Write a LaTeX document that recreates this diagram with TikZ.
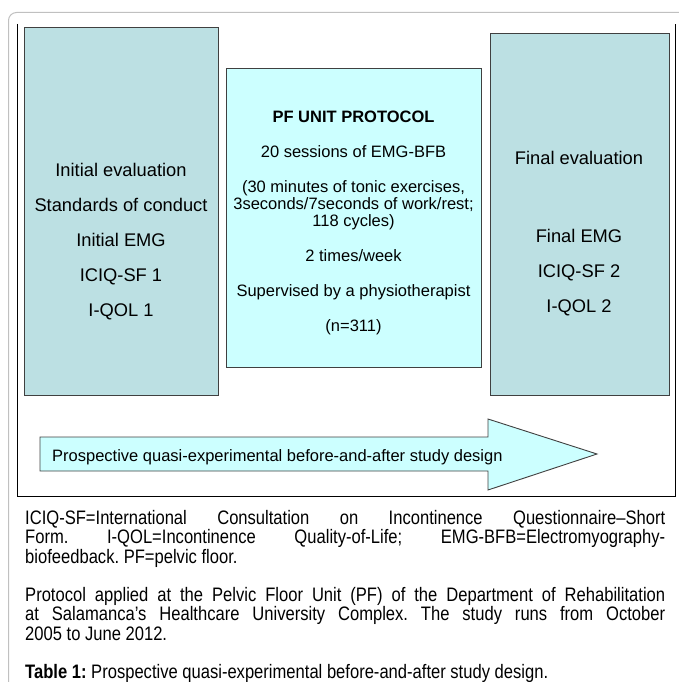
\documentclass[tikz,border=0pt]{standalone}
\usepackage{fontspec}
\setmainfont{Liberation Sans}
\newfontfamily\narrowfont[FakeStretch=0.85]{Liberation Sans}
\definecolor{evalfill}{HTML}{BCE0E3}
\definecolor{protofill}{HTML}{CCFFFF}
\definecolor{boxline}{HTML}{404040}
\definecolor{framegray}{HTML}{C0C0C0}
\begin{document}
\begin{tikzpicture}[x=1pt,y=-1pt,
  evalbox/.style={draw=boxline,fill=evalfill,line width=0.9pt},
  protobox/.style={draw=boxline,fill=protofill,line width=0.9pt},
  boxtext/.style={align=center,inner sep=0pt,text=black},
  captext/.style={anchor=north west,inner sep=0pt,text width=640pt,align=justify}]
\useasboundingbox (0,0) rectangle (679,682);
% outer page frame
\draw[framegray,line width=1pt,rounded corners=8pt] (8.5,690) -- (8.5,12.5) -- (690,12.5);
% figure frame
\draw[black,line width=0.9pt] (17,24) -- (17,496) -- (675,496) -- (675,24);
% the three stages
\node[evalbox,minimum width=194pt,minimum height=368pt,anchor=north west] (initial) at (24,27) {};
\node[protobox,minimum width=255pt,minimum height=299pt,anchor=north west] (protocol) at (226,68) {};
\node[evalbox,minimum width=179pt,minimum height=362pt,anchor=north west] (final) at (490,33) {};
\node[boxtext,font=\fontsize{18.3}{35}\selectfont] (initialtext) at (121,242)
  {Initial evaluation\\Standards of conduct\\Initial EMG\\ICIQ-SF 1\\I-QOL 1};
\node[boxtext,font=\fontsize{16.5}{17}\selectfont] (protocoltext) at (353.5,223)
  {\textbf{PF UNIT PROTOCOL}\\[18pt]20 sessions of EMG-BFB\\[18pt](30 minutes of tonic exercises,\\3seconds/7seconds of work/rest;\\118 cycles)\\[18pt]2 times/week\\[18pt]Supervised by a physiotherapist\\[18pt](n=311)};
\node[boxtext,font=\fontsize{18.3}{35}\selectfont] (finaltext) at (579,234)
  {Final evaluation\\[43pt]Final EMG\\ICIQ-SF 2\\I-QOL 2};
% study-design arrow
\draw[protobox] (40,437) -- (488,437) -- (488,419) -- (597,454) -- (488,490) -- (488,471) -- (40,471) -- cycle;
\node[anchor=west,inner sep=0pt,font=\fontsize{16.5}{19}\selectfont] (design) at (52,457)
  {Prospective quasi-experimental before-and-after study design};
% caption
\node[captext,font=\narrowfont\fontsize{19.5}{19.5}\selectfont\frenchspacing] (caption) at (25,510)
  {ICIQ-SF=International Consultation on Incontinence Questionnaire–Short\linebreak
   Form. I-QOL=Incontinence Quality-of-Life; EMG-BFB=Electromyography-\linebreak
   biofeedback. PF=pelvic floor.\par\vspace{18.5pt}
   Protocol applied at the Pelvic Floor Unit (PF) of the Department of Rehabilitation\linebreak
   at Salamanca’s Healthcare University Complex. The study runs from October\linebreak
   2005 to June 2012.\par\vspace{18.5pt}
   \textbf{Table 1:} Prospective quasi-experimental before-and-after study design.};
\end{tikzpicture}
\end{document}
